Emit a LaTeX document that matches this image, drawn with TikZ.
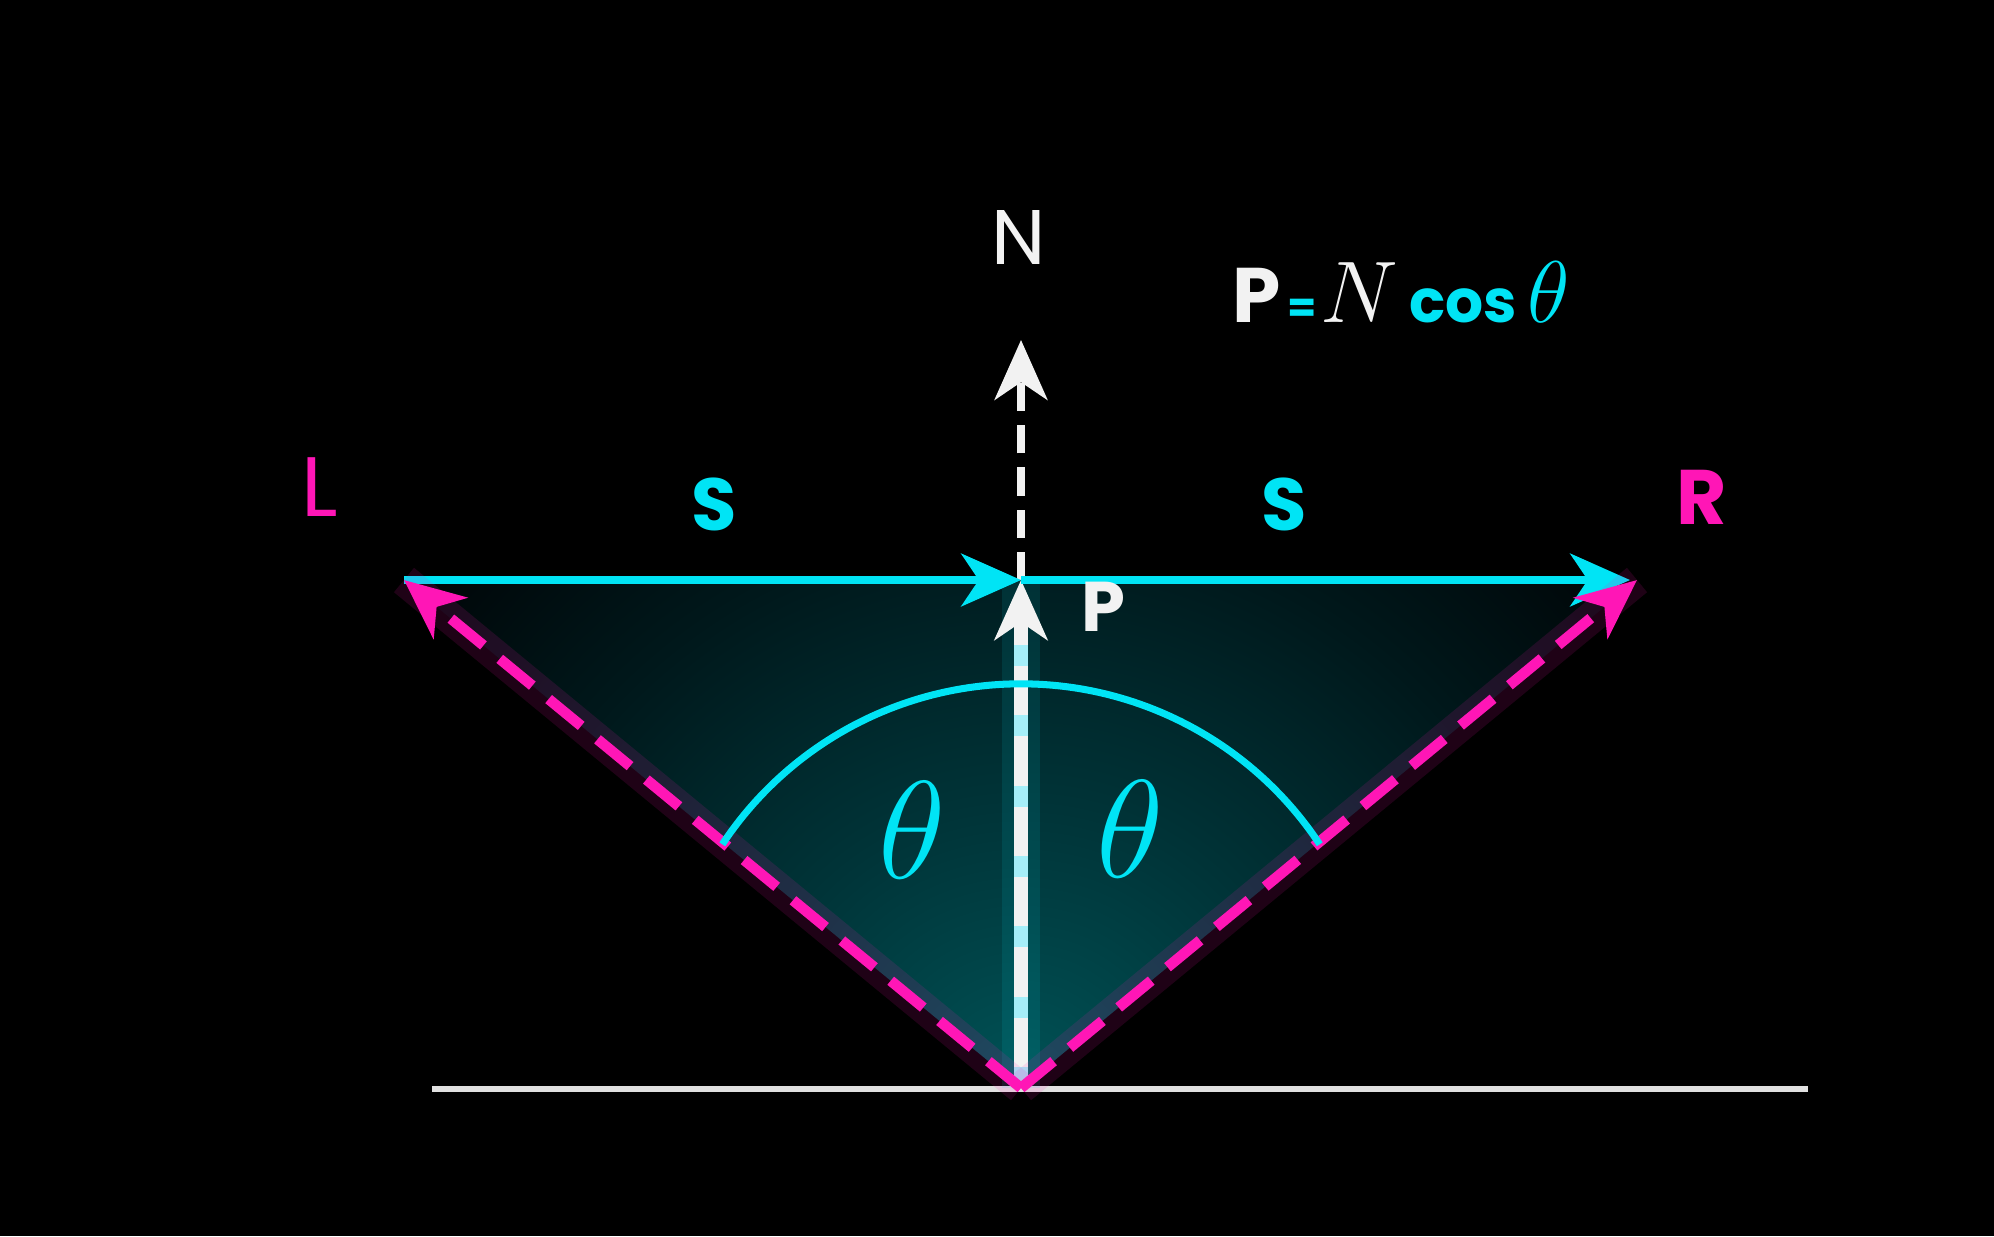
\documentclass[tikz,border=0pt]{standalone}
\usepackage{fontspec}
\newfontfamily\geofont{Poppins}
\usetikzlibrary{arrows.meta,positioning,calc}
\definecolor{night}{RGB}{0,0,0}
\definecolor{chalk}{RGB}{242,242,242}
\definecolor{neon}{RGB}{0,228,245}
\definecolor{neonpale}{RGB}{165,238,248}
\definecolor{neonpink}{RGB}{255,22,182}
\definecolor{deepteal}{RGB}{0,82,86}
\definecolor{midteal}{RGB}{0,52,56}
\definecolor{darkteal}{RGB}{0,24,27}
\definecolor{fadeteal}{RGB}{0,6,8}
\pgfdeclareradialshading{conefade}{\pgfpoint{0bp}{0bp}}{color(0bp)=(deepteal); color(9bp)=(midteal); color(18bp)=(darkteal); color(25bp)=(fadeteal); color(50bp)=(night)}
\tikzset{
  headtip/.style={-{Stealth[length=17pt,width=15pt,inset=5pt]}},
  beam/.style={headtip, color=neon, line width=2pt},
  ray/.style={headtip, color=neonpink, line width=3pt, dash pattern=on 12pt off 6pt},
  rayglow/.style={color=neonpink, line width=9pt, opacity=0.12},
  normvec/.style={headtip, color=chalk, line width=4pt},
  normglow/.style={color=neon, line width=11pt, opacity=0.1},
  normdash/.style={color=neonpale, line width=4pt, dash pattern=on 6pt off 14pt},
  upvec/.style={headtip, color=chalk, line width=2.3pt, dash pattern=on 8pt off 4pt},
  groundline/.style={color=chalk!85!gray, line width=1.8pt},
  angarc/.style={color=neon, line width=2pt},
  lbl/.style={font=\geofont\fontsize{21}{24}\selectfont, inner sep=0pt},
  angle lbl/.style={font=\fontsize{20.74}{24}\selectfont, scale=1.91, text=neon, inner sep=0pt},
}

\begin{document}
\begin{tikzpicture}[x=0.01cm, y=-0.01cm]
  \fill[night] (0,0) rectangle (1994,1236);
  \useasboundingbox (0,0) rectangle (1994,1236);
  \coordinate (O) at (1021,1088);
  \coordinate (L) at (404,580);
  \coordinate (R) at (1637,580);
  \coordinate (P) at (1021,580);
  \coordinate (N) at (1021,340);
  \coordinate (C) at (1021,1042);
  \coordinate (g1) at (432,1089);
  \coordinate (g2) at (1808,1089);

  % glow inside the cone
  \begin{scope}
    \clip (O) -- (L) -- (R) -- cycle;
    \shade[shading=conefade] (O) circle (7.8cm);
  \end{scope}

  \draw[groundline] (g1) -- (g2);
  \draw[normglow] (O) -- (P);
  \draw[normvec] (O) -- (P);
  \draw[normdash, shorten >=18pt] (O) -- (P);
  \draw[upvec] (P) -- (N);
  \draw[beam] (L) -- (P);
  \draw[beam, shorten >=2pt] (P) -- (R);
  \draw[rayglow] (O) -- (L); \draw[rayglow] (O) -- (R);
  \draw[ray] (O) -- (L);
  \draw[ray] (O) -- (R);
  \draw[angarc] (C) ++(33.5:3.58cm) arc[start angle=33.5, end angle=146.5, radius=3.58cm];

  \node[lbl, text=neonpink, font=\geofont\fontsize{24}{28}\selectfont] (lL) at (320,487) {L};
  \node[lbl, text=neonpink, font=\geofont\fontsize{22}{26}\selectfont\bfseries] (lR) at (1702,497) {R};
  \node[lbl, text=neon, font=\geofont\fontsize{21}{24}\selectfont\bfseries] (lS1) at (714,504) {S};
  \node[lbl, text=neon, font=\geofont\fontsize{21}{24}\selectfont\bfseries] (lS2) at (1284,504) {S};
  \node[lbl, text=chalk, font=\geofont\fontsize{22}{26}\selectfont] (lN) at (1019,237) {N};
  \node[lbl, text=chalk, font=\geofont\fontsize{20}{24}\selectfont\bfseries] (lP) at (1103,607) {P};
  \node[angle lbl] (th1) at (912,830) {$\theta$};
  \node[angle lbl] (th2) at (1130,829) {$\theta$};
  \node[lbl, text=chalk, font=\geofont\fontsize{24.88}{28}\selectfont, anchor=base] (eq) at (1401,322)
    {{\fontsize{22}{26}\selectfont\bfseries P}\hspace{2pt}{\color{neon}\fontsize{12}{14}\selectfont\bfseries =}\hspace{1pt}$N$\hspace{3pt}{\color{neon}\fontsize{17}{20}\selectfont\bfseries cos}\hspace{3pt}{\color{neon}$\theta$}};
\end{tikzpicture}
\end{document}
